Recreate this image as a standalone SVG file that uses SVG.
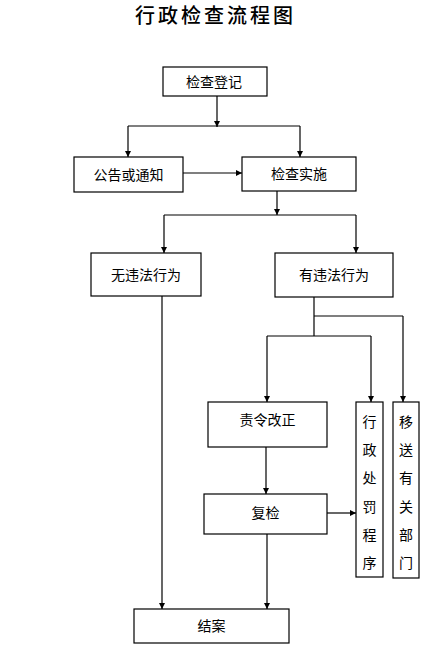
<svg xmlns="http://www.w3.org/2000/svg" width="438" height="648" viewBox="0 0 438 648">
<defs>
<marker id="arr" markerUnits="userSpaceOnUse" markerWidth="7" markerHeight="7" refX="6" refY="3" orient="auto">
<path d="M0,0 L6,3 L0,6 z" fill="#000"/>
</marker>
<style>
.box{fill:#fff;stroke:#000;stroke-width:1.2}
.t{font-family:"Noto Sans CJK SC","Noto Sans",sans-serif;font-size:14px;fill:#000;text-anchor:middle}
.ln{fill:none;stroke:#000;stroke-width:1.2}
.ar{fill:none;stroke:#000;stroke-width:1.2;marker-end:url(#arr)}
</style>
</defs>
<rect width="438" height="648" fill="#fff"/>
<text x="215.5" y="23" style="font-family:'Noto Sans CJK SC',sans-serif;font-size:20px;letter-spacing:3px;fill:#000;text-anchor:middle;font-weight:500">行政检查流程图</text>

<g id="connectors">
<path class="ar" d="M217,96 V127"/>
<path class="ln" d="M128,126 H300"/>
<path class="ar" d="M128,126 V157"/>
<path class="ar" d="M300,126 V157"/>
<path class="ar" d="M183,173 H242"/>
<path class="ar" d="M277,191 V215"/>
<path class="ln" d="M164,215 H356"/>
<path class="ar" d="M164,215 V253"/>
<path class="ar" d="M356,215 V253"/>
<path class="ar" d="M162,296 V609"/>
<path class="ln" d="M314,297 V336"/>
<path class="ln" d="M267,336 H371"/>
<path class="ar" d="M267,336 V402"/>
<path class="ar" d="M371,336 V402"/>
<path class="ln" d="M314,316 H403"/>
<path class="ar" d="M403,316 V402"/>
<path class="ar" d="M266,447 V494"/>
<path class="ar" d="M327,513 H356"/>
<path class="ar" d="M267,534 V609"/>
</g>

<g id="n1"><rect class="box" x="163" y="67" width="104" height="29"/><text class="t" x="214" y="86.5">检查登记</text></g>
<g id="n2"><rect class="box" x="74" y="157" width="109" height="35"/><text class="t" x="128.5" y="179.5">公告或通知</text></g>
<g id="n3"><rect class="box" x="242" y="157" width="114" height="34"/><text class="t" x="299" y="179">检查实施</text></g>
<g id="n4"><rect class="box" x="91" y="253" width="110" height="43"/><text class="t" x="146" y="279.5">无违法行为</text></g>
<g id="n5"><rect class="box" x="275" y="253" width="118" height="44"/><text class="t" x="334" y="280">有违法行为</text></g>
<g id="n6"><rect class="box" x="208" y="402" width="119" height="45"/><text class="t" x="267.5" y="425">责令改正</text></g>
<g id="n7"><rect class="box" x="204" y="494" width="123" height="40"/><text class="t" x="265.5" y="518">复检</text></g>
<g id="n8"><rect class="box" x="134" y="609" width="155" height="34"/><text class="t" x="211.5" y="631">结案</text></g>
<g id="n9"><rect class="box" x="356" y="402" width="27" height="175"/>
<text class="t" x="369.5" y="427">行</text><text class="t" x="369.5" y="455">政</text><text class="t" x="369.5" y="483">处</text><text class="t" x="369.5" y="512">罚</text><text class="t" x="369.5" y="540">程</text><text class="t" x="369.5" y="568">序</text></g>
<g id="n10"><rect class="box" x="393" y="402" width="26" height="176"/>
<text class="t" x="406" y="427">移</text><text class="t" x="406" y="455">送</text><text class="t" x="406" y="483">有</text><text class="t" x="406" y="512">关</text><text class="t" x="406" y="540">部</text><text class="t" x="406" y="568">门</text></g>
</svg>
